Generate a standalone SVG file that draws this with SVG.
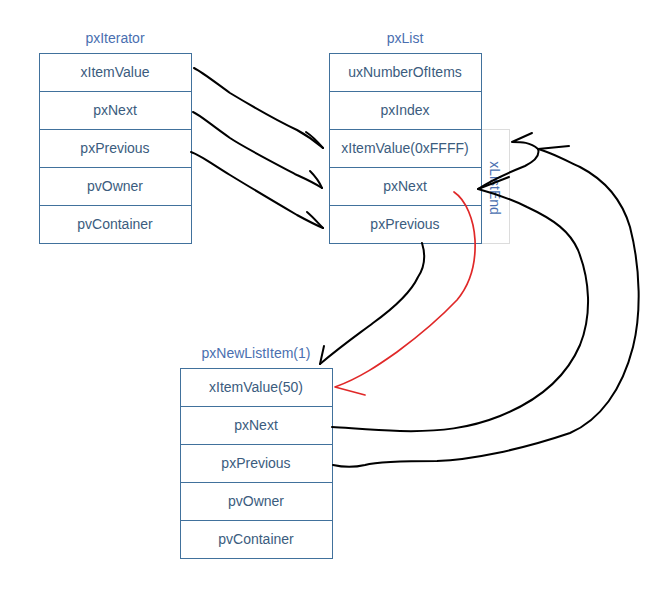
<svg xmlns="http://www.w3.org/2000/svg" width="661" height="616" viewBox="0 0 661 616">
<style>
.box{fill:#fff;stroke:#41719c;stroke-width:1}
.lbl{font-family:"Liberation Sans",Arial,sans-serif;font-size:14px;fill:#3b5c7e;text-anchor:middle}
.ttl{font-family:"Liberation Sans",Arial,sans-serif;font-size:14px;fill:#4a6fb0;text-anchor:middle}
.ink{fill:none;stroke:#000;stroke-width:2;stroke-linecap:round;stroke-linejoin:round}
.red{fill:none;stroke:#e02828;stroke-width:1.7;stroke-linecap:round;stroke-linejoin:round}
</style>
<rect width="661" height="616" fill="#fff"/>

<g id="pxIterator">
<text class="ttl" x="115" y="43">pxIterator</text>
<rect class="box" x="39.5" y="53.5" width="152" height="38"/>
<rect class="box" x="39.5" y="91.5" width="152" height="38"/>
<rect class="box" x="39.5" y="129.5" width="152" height="38"/>
<rect class="box" x="39.5" y="167.5" width="152" height="38"/>
<rect class="box" x="39.5" y="205.5" width="152" height="38"/>
<text class="lbl" x="115" y="77">xItemValue</text>
<text class="lbl" x="115" y="115">pxNext</text>
<text class="lbl" x="115" y="153">pxPrevious</text>
<text class="lbl" x="115" y="191">pvOwner</text>
<text class="lbl" x="115" y="229">pvContainer</text>
</g>

<g id="pxList">
<text class="ttl" x="405" y="43">pxList</text>
<rect x="481.5" y="129.5" width="28" height="114" fill="#fff" stroke="#dcdcdc" stroke-width="1"/>
<rect class="box" x="329.5" y="53.5" width="152" height="38"/>
<rect class="box" x="329.5" y="91.5" width="152" height="38"/>
<rect class="box" x="329.5" y="129.5" width="152" height="38"/>
<rect class="box" x="329.5" y="167.5" width="152" height="38"/>
<rect class="box" x="329.5" y="205.5" width="152" height="38"/>
<text class="lbl" x="405" y="77">uxNumberOfItems</text>
<text class="lbl" x="405" y="115">pxIndex</text>
<text class="lbl" x="405" y="153">xItemValue(0xFFFF)</text>
<text class="lbl" x="405" y="191">pxNext</text>
<text class="lbl" x="405" y="229">pxPrevious</text>
<text class="ttl" transform="translate(490,188) rotate(90)" x="0" y="0">xListEnd</text>
</g>

<g id="pxNewListItem">
<text class="ttl" x="256" y="358">pxNewListItem(1)</text>
<rect class="box" x="180.5" y="368.5" width="152" height="38"/>
<rect class="box" x="180.5" y="406.5" width="152" height="38"/>
<rect class="box" x="180.5" y="444.5" width="152" height="38"/>
<rect class="box" x="180.5" y="482.5" width="152" height="38"/>
<rect class="box" x="180.5" y="520.5" width="152" height="38"/>
<text class="lbl" x="256" y="392">xItemValue(50)</text>
<text class="lbl" x="256" y="430">pxNext</text>
<text class="lbl" x="256" y="468">pxPrevious</text>
<text class="lbl" x="256" y="506">pvOwner</text>
<text class="lbl" x="256" y="544">pvContainer</text>
</g>

<g id="connectors">
<path class="ink" d="M194,68 C202,72 212,80 230,93 C245,102 280,122 297,130 C308,136 316,142 323,148"/>
<path class="ink" d="M306,132 C312,136 318,142 323,148"/>
<path class="ink" d="M193,112 C200,115 210,124 230,138 C245,148 280,166 297,175 C308,180 316,184 322,188"/>
<path class="ink" d="M310,171 C315,176 319,181 322,188"/>
<path class="ink" d="M191,152 C200,155 212,164 230,175 C248,186 280,205 297,215 C308,221 316,225 323,228"/>
<path class="ink" d="M307,212 C313,217 318,223 323,228"/>

<path class="ink" d="M422,243 C426,256 424,268 418,277 C412,290 398,305 373,323 C360,333 345,343 320,364"/>
<path class="ink" d="M324,346 L320,364"/>

<path class="red" d="M454,192 C466,200 474,220 475,240 C476,262 472,282 457,300 C440,318 420,335 397,352 C380,364 360,378 335,387 L365,395"/>

<path class="ink" d="M332,427 C350,428 372,430 400,431 C440,432 470,428 500,416 C535,402 565,380 580,345 C592,315 590,280 578,250 C570,232 555,220 527,207 C515,201 500,195 478,189 L509,177"/>
<path class="ink" d="M478,189 C492,180 510,172 525,166 C535,161 540,155 538,149"/>
<path class="ink" d="M333,465 C342,467 352,468 365,465 C380,461 410,461 437,461 C470,460 520,450 570,433 C600,420 622,390 633,347 C641,315 641,270 630,227 C622,200 605,180 580,167 C565,160 550,152 538,149"/>
<path class="ink" d="M538,149 C530,142 522,142 512,142 L532,133"/>
<path class="ink" d="M538,149 L569,146"/>
</g>
</svg>
